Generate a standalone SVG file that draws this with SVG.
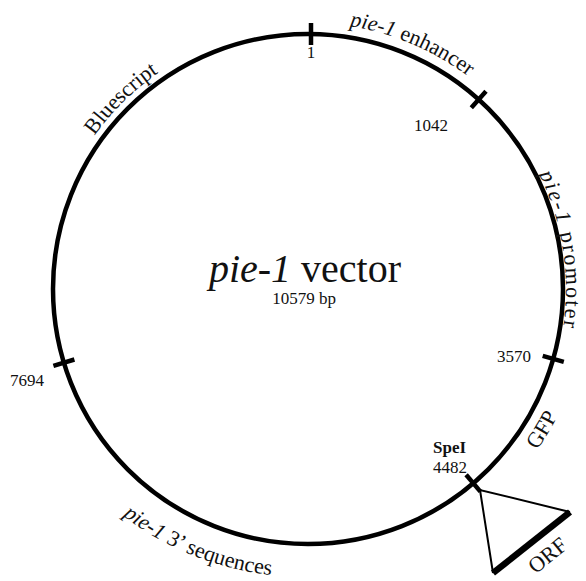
<svg xmlns="http://www.w3.org/2000/svg" width="586" height="581" viewBox="0 0 586 581">
<style>
text{font-family:"Liberation Serif","Times New Roman",serif;fill:#111}
.num{font-size:17px}
.lab{font-size:22px}
.it{font-style:italic}
.tick{stroke:#000;stroke-width:4.5;fill:none}
</style>
<defs>
<path id="pEnh" d="M 84.9 144.1 A 266 266 0 0 1 567.2 348.8"/>
<path id="pProm" d="M 313.6 31.1 A 258 258 0 0 1 391 533.3"/>
<path id="pBlue" d="M 91.3 438 A 263 263 0 0 1 460.7 74.9"/>
<path id="pGFP" d="M 207.6 550.4 A 280 280 0 0 0 491.7 77.7"/>
<path id="pSeq" d="M 13.9 204.4 A 300 300 0 0 0 553.7 444.8"/>
</defs>
<rect width="586" height="581" fill="#fff"/>
<g id="plasmid">
<circle cx="308" cy="289" r="255" fill="none" stroke="#000" stroke-width="4.5"/>
</g>
<g id="connectors">
<line class="tick" x1="311" y1="45" x2="311" y2="23"/>
<line class="tick" x1="471.3" y1="107.7" x2="486" y2="91.3"/>
<line class="tick" x1="542.7" y1="355.9" x2="563.8" y2="361.9"/>
<line class="tick" x1="466.1" y1="474.8" x2="480.4" y2="491.6"/>
<line class="tick" x1="74.4" y1="359.5" x2="53.4" y2="365.9"/>
<polyline points="493,573 480,490 570,512" fill="none" stroke="#000" stroke-width="2"/>
<line x1="493" y1="573" x2="570" y2="512" stroke="#000" stroke-width="6.5"/>
</g>
<g id="title">
<text x="305" y="282" font-size="40" text-anchor="middle"><tspan class="it">pie-1</tspan> vector</text>
<text x="304" y="304" class="num" text-anchor="middle">10579 bp</text>
</g>
<g id="positions">
<text class="num" x="311" y="58" text-anchor="middle">1</text>
<text class="num" x="414" y="131">1042</text>
<text class="num" x="497" y="362">3570</text>
<text class="num" x="10" y="386">7694</text>
<text class="num" x="433" y="453" font-weight="bold">SpeI</text>
<text class="num" x="433" y="473">4482</text>
</g>
<g id="labels">
<text class="lab"><textPath href="#pEnh" startOffset="50%" text-anchor="middle"><tspan class="it">pie-1</tspan> enhancer</textPath></text>
<text class="lab" letter-spacing="2"><textPath href="#pProm" startOffset="50%" text-anchor="middle"><tspan class="it">pie-1</tspan> promoter</textPath></text>
<text class="lab"><textPath href="#pBlue" startOffset="50%" text-anchor="middle">Bluescript</textPath></text>
<text class="lab"><textPath href="#pGFP" startOffset="50%" text-anchor="middle">GFP</textPath></text>
<text class="lab"><textPath href="#pSeq" startOffset="51.3%" text-anchor="middle"><tspan class="it">pie-1</tspan> 3’ sequences</textPath></text>
<text class="lab" transform="translate(552,561) rotate(-39)" text-anchor="middle">ORF</text>
</g>
</svg>
